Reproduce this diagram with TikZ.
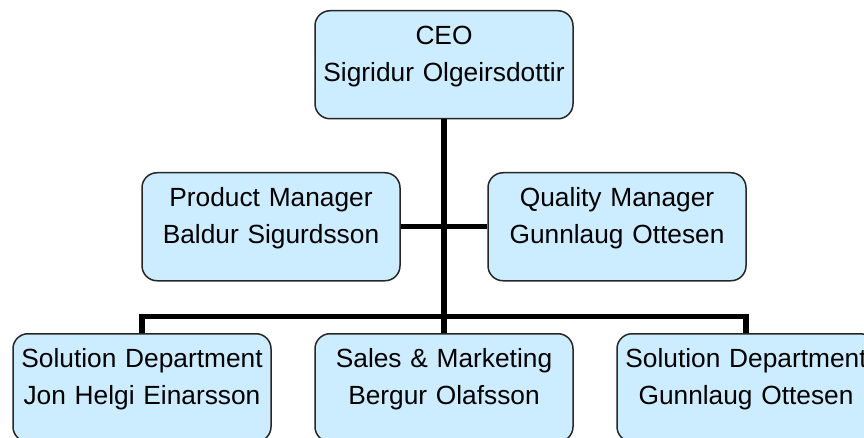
\documentclass[tikz,border=0pt]{standalone}
\usepackage{fontspec}
\setmainfont{Liberation Sans}
\definecolor{boxfill}{RGB}{204,236,255}
\begin{document}
\begin{tikzpicture}[x=1pt,y=-1pt,
  orgbox/.style={draw=black!85, line width=1.5pt, fill=boxfill,
    rounded corners=15pt, inner sep=0pt, anchor=north,
    text width=258pt, align=center,
    text height=33.8pt, text depth=74.2pt,
    font=\fontsize{26.3}{36.7}\selectfont},
  link/.style={line width=5.5pt, line join=miter}]
  \useasboundingbox (0,0) rectangle (864,438);
  \clip (0,0) rectangle (864,438);

  % top level
  \node[orgbox] (ceo) at (444,10) {CEO\\Sigridur Olgeirsdottir};
  % staff positions
  \node[orgbox] (pm) at (271,172) {Product Manager\\Baldur Sigurdsson};
  \node[orgbox] (qm) at (617,172) {Quality Manager\\Gunnlaug Ottesen};
  % departments
  \node[orgbox] (sd1) at (142,333) {Solution Department\\Jon Helgi Einarsson};
  \node[orgbox] (sm) at (444,333) {Sales \& Marketing\\Bergur Olafsson};
  \node[orgbox] (sd2) at (746,333) {Solution Department\\Gunnlaug Ottesen};

  % connectors
  \coordinate (bar) at (444,316.5);
  \draw[link] (ceo.south) -- (sm.north);
  \draw[link] (pm.east) -- (qm.west);
  \draw[link] (sd1.north) |- (bar) -| (sd2.north);
\end{tikzpicture}
\end{document}
